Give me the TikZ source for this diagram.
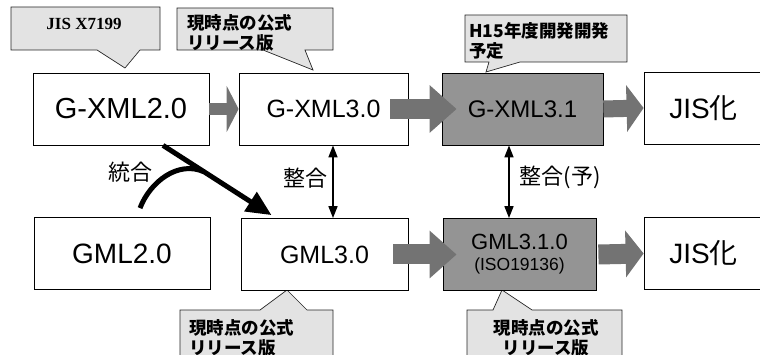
\documentclass[tikz,border=0pt]{standalone}
\usepackage{fontspec}
\setmainfont{Liberation Sans}
\newfontfamily\jp{Noto Sans CJK JP}
\newfontfamily\tms{Liberation Serif}
\usetikzlibrary{arrows.meta,calc}

\tikzset{
    box/.style={draw, line width=0.8pt, fill=white, minimum height=72pt, inner sep=0pt},
    shadebox/.style={box, fill=black!42},
    callout/.style={draw=black!85, line width=0.7pt, fill=gray!22},
    notetext/.style={font=\jp\bfseries\fontsize{17.5}{20}\selectfont, inner sep=0pt},
    blockarrow/.style n args={2}{draw=black!55, line width=#1, -{Triangle[width=46pt,length=#2]}},
    syncarrow/.style={line width=1.6pt, {Triangle[width=9pt,length=12pt]}-{Triangle[width=9pt,length=12pt]}},
    merge/.style={line width=5pt},
}

\begin{document}
\begin{tikzpicture}[x=1pt, y=-1pt]
    \useasboundingbox (0,0) rectangle (760,355);
    \clip (0,0) rectangle (760,355);

    % Callouts
    \draw[callout] (11,7) -- (160,7) -- (160,50) -- (140,50) -- (125,68) -- (97,50) -- (11,50) -- cycle;
    \node[font=\tms\bfseries\fontsize{17}{19}\selectfont] (notea) at (84,24) {JIS X7199};

    \draw[callout] (177,8) -- (333,8) -- (333,50) -- (305,50) -- (313,70) -- (263,50) -- (177,50) -- cycle;
    \node[notetext, anchor=north west, align=left] (noteb) at (187,14) {現時点の公式\\リリース版};

    \draw[callout] (465,15) -- (627,15) -- (627,62) -- (520,62) -- (486,72) -- (489,62) -- (465,62) -- cycle;
    \node[notetext, anchor=north west, align=left] (notec) at (469,22) {H15年度開発開発\\予定};

    \draw[callout] (180,310) -- (260,310) -- (287,290) -- (307,310) -- (333,310) -- (333,360) -- (180,360) -- cycle;
    \node[notetext, anchor=north west, align=left] (noted) at (189,319) {現時点の公式\\リリース版};

    \draw[callout] (467,310) -- (493,310) -- (502,290) -- (532,310) -- (622,310) -- (622,360) -- (467,360) -- cycle;
    \node[notetext, anchor=north, align=center] (notee) at (546,319) {現時点の公式\\リリース版};

    % Top row
    \node[box, minimum width=176pt, font=\fontsize{29}{30}\selectfont] (gx2) at (121,109) {G-XML2.0};
    \node[box, minimum width=169pt, font=\fontsize{25}{26}\selectfont] (gx3) at (323.5,109) {G-XML3.0};
    \node[shadebox, minimum width=161pt, font=\fontsize{24}{25}\selectfont] (gx31) at (522.5,109) {G-XML3.1};
    \node[box, minimum width=119pt, font=\fontsize{28}{29}\selectfont] (jisa) at (703.5,108) {JIS{\jp 化}};

    % Bottom row
    \node[box, minimum width=176pt, font=\fontsize{28}{29}\selectfont] (gml2) at (122,253.5) {GML2.0};
    \node[box, minimum width=167pt, font=\fontsize{25}{26}\selectfont] (gml3) at (324.5,254.5) {GML3.0};
    \node[shadebox, minimum width=153pt, align=center, font=\fontsize{17.5}{21}\selectfont] (gml31) at (519.5,254.5)
        {{\fontsize{22}{24}\selectfont GML3.1.0}\\(ISO19136)};
    \node[box, minimum width=119pt, font=\fontsize{28}{29}\selectfont] (jisb) at (703.5,253.5) {JIS{\jp 化}};

    % Block arrows
    \draw[blockarrow={12pt}{12pt}] (gx2.east) -- (gx3.west);
    \draw[blockarrow={20pt}{27pt}] ([xshift=-18pt]gx3.east) -- ([xshift=15pt]gx31.west);
    \draw[blockarrow={17pt}{17pt}] (gx31.east) -- (jisa.west);
    \draw[blockarrow={20pt}{27pt}] ([xshift=-15pt]gml3.east) -- ([xshift=14pt]gml31.west);
    \draw[blockarrow={20pt}{18pt}] ([xshift=2pt]gml31.east) -- (jisb.west);

    % Sync arrows
    \coordinate (synca) at (333,0);
    \coordinate (syncb) at (509,0);
    \draw[syncarrow] (gx3.south -| synca) -- (gml3.north -| synca);
    \draw[syncarrow] (gx31.south -| syncb) -- (gml31.north -| syncb);
    \node[font=\jp\fontsize{22}{24}\selectfont] (synclabela) at (305,178) {整合};
    \node[font=\jp\fontsize{22}{24}\selectfont] (synclabelb) at (560,177) {整合(予)};

    % Merge
    \coordinate (mergetail) at ([xshift=42pt]gx2.south);
    \coordinate (mergetip) at ([xshift=-53pt,yshift=3pt]gml3.north);
    \draw[merge, -{Triangle[width=22pt,length=25pt]}] (mergetail) -- (mergetip);
    \draw[merge] ([xshift=18pt,yshift=9pt]gml2.north) .. controls (150,182) and (178,160) .. ($(mergetail)!0.38!(mergetip)$);
    \node[font=\jp\fontsize{22}{24}\selectfont] (mergelabel) at (130,172) {統合};
\end{tikzpicture}
\end{document}
